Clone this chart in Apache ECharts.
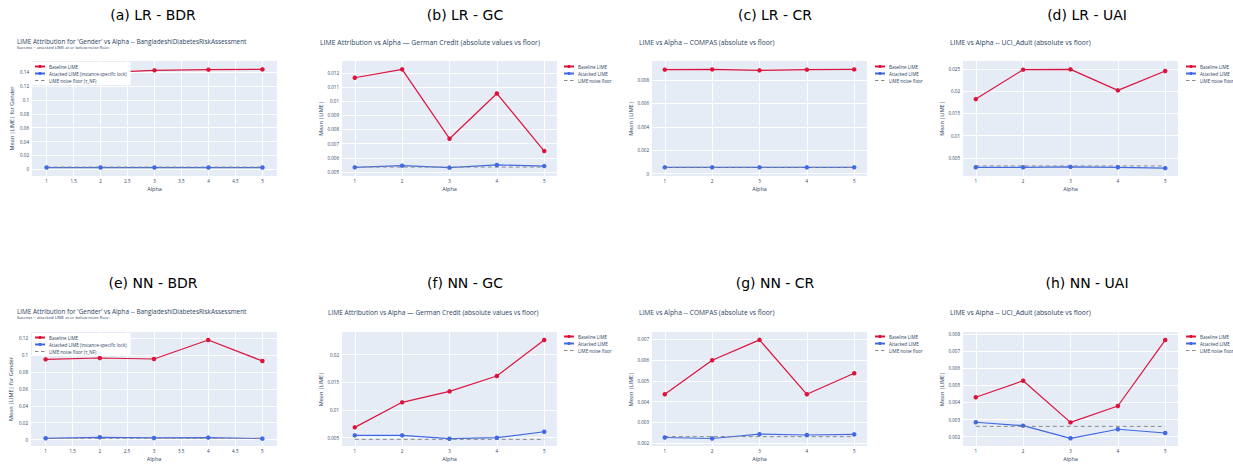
<!DOCTYPE html>
<html><head><meta charset="utf-8">
<script src="https://cdn.jsdelivr.net/npm/echarts@6/dist/echarts.min.js"></script>
<style>html,body{margin:0;padding:0;background:#fff}#c{width:1233px;height:464px}</style>
</head><body><div id="c"></div>
<script>
// ---------- DATA ----------
const alpha = [1, 2, 3, 4, 5];

const lrBdrBase = [0.1390, 0.1395, 0.1429, 0.1439, 0.1443];
const lrBdrAtt = [0.0025, 0.0025, 0.0025, 0.0025, 0.0025];
const lrBdrFloor = 0.0032;

const lrGcBase = [0.01165, 0.01224, 0.00735, 0.01054, 0.00648];
const lrGcAtt = [0.00533, 0.00545, 0.00531, 0.00550, 0.00542];
const lrGcFloor = 0.00535;

const lrCrBase = [0.00889, 0.00891, 0.00883, 0.00889, 0.00891];
const lrCrAtt = [0.00054, 0.00054, 0.00054, 0.00054, 0.00054];
const lrCrFloor = 0.00054;

const lrUaiBase = [0.01823, 0.02485, 0.02492, 0.02019, 0.02455];
const lrUaiAtt = [0.0029, 0.0029, 0.0030, 0.0029, 0.0027];
const lrUaiFloor = 0.0032;

const nnBdrBase = [0.0948, 0.0964, 0.0952, 0.1176, 0.0929];
const nnBdrAtt = [0.0016, 0.0028, 0.0020, 0.0024, 0.0012];
const nnBdrFloor = 0.0015;

const nnGcBase = [0.00687, 0.01139, 0.01337, 0.01614, 0.02265];
const nnGcAtt = [0.00542, 0.00542, 0.00482, 0.00500, 0.00608];
const nnGcFloor = 0.0047;

const nnCrBase = [0.00435, 0.00599, 0.00697, 0.00435, 0.00536];
const nnCrAtt = [0.00227, 0.00222, 0.00243, 0.00239, 0.00242];
const nnCrFloor = 0.00231;

const nnUaiBase = [0.0043, 0.00527, 0.00283, 0.00379, 0.00765];
const nnUaiAtt = [0.00284, 0.00264, 0.0019, 0.00243, 0.00221];
const nnUaiFloor = 0.0026;

// tick values
const xTicksHalf = [1, 1.5, 2, 2.5, 3, 3.5, 4, 4.5, 5];
const xTicksInt = [1, 2, 3, 4, 5];
const yTicksA = [0, 0.02, 0.04, 0.06, 0.08, 0.1, 0.12, 0.14];
const yTicksB = [0.005, 0.006, 0.007, 0.008, 0.009, 0.01, 0.011, 0.012];
const yTicksC = [0, 0.002, 0.004, 0.006, 0.008];
const yTicksD = [0.005, 0.01, 0.015, 0.02, 0.025];
const yTicksE = [0, 0.02, 0.04, 0.06, 0.08, 0.1, 0.12];
const yTicksF = [0.005, 0.01, 0.015, 0.02];
const yTicksG = [0.002, 0.003, 0.004, 0.005, 0.006, 0.007];
const yTicksH = [0.002, 0.003, 0.004, 0.005, 0.006, 0.007, 0.008];

// text
const captions = ['(a) LR - BDR', '(b) LR - GC', '(c) LR - CR', '(d) LR - UAI',
                  '(e) NN - BDR', '(f) NN - GC', '(g) NN - CR', '(h) NN - UAI'];
const titleBDR = "LIME Attribution for 'Gender' vs Alpha -- BangladeshiDiabetesRiskAssessment";
const titleGC = 'LIME Attribution vs Alpha — German Credit (absolute values vs floor)';
const titleCR = 'LIME vs Alpha -- COMPAS (absolute vs floor)';
const titleUAI = 'LIME vs Alpha -- UCI_Adult (absolute vs floor)';
const subBDR = 'Success = attacked LIME at or below noise floor.';
const namesBDR = ['Baseline LIME', 'Attacked LIME (instance-specific lock)', 'LIME noise floor (τ_NF)'];
const namesStd = ['Baseline LIME', 'Attacked LIME', 'LIME noise floor'];

// ---------- LAYOUT ----------
const panels = [
  {base: lrBdrBase, att: lrBdrAtt, floor: lrBdrFloor, yt: yTicksA, xt: xTicksHalf, title: titleBDR, sub: subBDR, names: namesBDR, yName: 'Mean |LIME| for Gender',
   gx: 32, gy: 61, gw: 245, gh: 115, ymin: -0.0097, ymax: 0.1564, lx: 32, ly: 62, inside: true, tx: 17, ty: 41, tf: 6.4, cx: 153, cy: 15},
  {base: lrGcBase, att: lrGcAtt, floor: lrGcFloor, yt: yTicksB, xt: xTicksInt, title: titleGC, names: namesStd, yName: 'Mean |LIME|',
   gx: 342, gy: 61, gw: 215, gh: 115, ymin: 0.00472, ymax: 0.01283, lx: 563, ly: 64, tx: 320, ty: 42, tf: 6.9, cx: 465, cy: 15},
  {base: lrCrBase, att: lrCrAtt, floor: lrCrFloor, yt: yTicksC, xt: xTicksInt, title: titleCR, names: namesStd, yName: 'Mean |LIME|',
   gx: 652, gy: 61, gw: 215, gh: 115, ymin: -0.0002, ymax: 0.00963, lx: 874, ly: 64, tx: 639, ty: 42, tf: 6.7, cx: 775, cy: 15},
  {base: lrUaiBase, att: lrUaiAtt, floor: lrUaiFloor, yt: yTicksD, xt: xTicksInt, title: titleUAI, names: namesStd, yName: 'Mean |LIME|',
   gx: 963, gy: 61, gw: 215, gh: 115, ymin: 0.00094, ymax: 0.0268, lx: 1185, ly: 64, tx: 950, ty: 42, tf: 6.8, cx: 1087, cy: 15},
  {base: nnBdrBase, att: nnBdrAtt, floor: nnBdrFloor, yt: yTicksE, xt: xTicksHalf, title: titleBDR, sub: subBDR, names: namesBDR, yName: 'Mean |LIME| for Gender',
   gx: 31, gy: 332, gw: 246, gh: 114, ymin: -0.0075, ymax: 0.1271, lx: 32, ly: 333, inside: true, tx: 17, ty: 311, tf: 6.4, cx: 153, cy: 283},
  {base: nnGcBase, att: nnGcAtt, floor: nnGcFloor, yt: yTicksF, xt: xTicksInt, title: titleGC, names: namesStd, yName: 'Mean |LIME|',
   gx: 342, gy: 332, gw: 215, gh: 114, ymin: 0.0035, ymax: 0.0241, lx: 563, ly: 334, tx: 328, ty: 312, tf: 6.6, cx: 465, cy: 283},
  {base: nnCrBase, att: nnCrAtt, floor: nnCrFloor, yt: yTicksG, xt: xTicksInt, title: titleCR, names: namesStd, yName: 'Mean |LIME|',
   gx: 652, gy: 332, gw: 215, gh: 114, ymin: 0.00186, ymax: 0.00735, lx: 874, ly: 334, tx: 639, ty: 312, tf: 6.7, cx: 775, cy: 283},
  {base: nnUaiBase, att: nnUaiAtt, floor: nnUaiFloor, yt: yTicksH, xt: xTicksInt, title: titleUAI, names: namesStd, yName: 'Mean |LIME|',
   gx: 963, gy: 332, gw: 215, gh: 114, ymin: 0.00145, ymax: 0.00812, lx: 1185, ly: 334, tx: 950, ty: 312, tf: 6.8, cx: 1087, cy: 283}
];

const RED = '#DC143C', BLUE = '#4169E1', GRAY = '#8a8a8a', TXT = '#2a3f5f';
const FONT = '"Open Sans", "Noto Sans", sans-serif';
const fmt = v => String(parseFloat(Number(v).toPrecision(6)));

const grid = [], xAxis = [], yAxis = [], series = [], legend = [], graphic = [];
panels.forEach((p, i) => {
  grid.push({left: p.gx, top: p.gy, width: p.gw, height: p.gh, show: true, backgroundColor: '#E5ECF6', borderWidth: 0, containLabel: false});
  xAxis.push({
    type: 'value', gridIndex: i, min: 0.73, max: 5.27,
    name: 'Alpha', nameLocation: 'middle', nameGap: 10,
    nameTextStyle: {fontSize: 5.5, color: TXT, fontFamily: FONT},
    axisLine: {show: false},
    axisTick: {show: false, customValues: p.xt},
    axisLabel: {customValues: p.xt, fontSize: 4.5, color: TXT, fontFamily: FONT, margin: 2, formatter: fmt},
    splitLine: {show: true, lineStyle: {color: '#ffffff', width: 1}}
  });
  yAxis.push({
    type: 'value', gridIndex: i, min: p.ymin, max: p.ymax,
    name: p.yName, nameLocation: 'middle', nameGap: 17, nameRotate: 90,
    nameTextStyle: {fontSize: 5.5, color: TXT, fontFamily: FONT},
    axisLine: {show: false},
    axisTick: {show: false, customValues: p.yt},
    axisLabel: {customValues: p.yt, fontSize: 4.5, color: TXT, fontFamily: FONT, margin: 3, formatter: fmt},
    splitLine: {show: true, lineStyle: {color: '#ffffff', width: 1}}
  });
  series.push({
    type: 'line', name: p.names[0], xAxisIndex: i, yAxisIndex: i,
    data: alpha.map((a, k) => [a, p.base[k]]),
    symbol: 'circle', symbolSize: 4.5, showAllSymbol: true,
    lineStyle: {color: RED, width: 1.2}, itemStyle: {color: RED}, emphasis: {disabled: true}, silent: true
  });
  series.push({
    type: 'line', name: p.names[1], xAxisIndex: i, yAxisIndex: i,
    data: alpha.map((a, k) => [a, p.att[k]]),
    symbol: 'circle', symbolSize: 4.5, showAllSymbol: true,
    lineStyle: {color: BLUE, width: 1.2}, itemStyle: {color: BLUE}, emphasis: {disabled: true}, silent: true
  });
  series.push({
    type: 'line', name: p.names[2], xAxisIndex: i, yAxisIndex: i,
    data: alpha.map(a => [a, p.floor]),
    symbol: 'none', showSymbol: false,
    lineStyle: {color: GRAY, width: 1, type: [4, 3]}, itemStyle: {color: GRAY}, emphasis: {disabled: true}, silent: true
  });
  legend.push({
    left: p.lx, top: p.ly, orient: 'vertical', selectedMode: false,
    data: [
      {name: p.names[0]},
      {name: p.names[1]},
      {name: p.names[2], itemStyle: {opacity: 0}, lineStyle: {type: [3.5, 2.5], width: 1, color: GRAY}}
    ],
    itemWidth: 10, itemHeight: 4, itemGap: 2,
    padding: p.inside ? [2, 4, 2, 2] : 0,
    backgroundColor: p.inside ? '#ffffff' : 'transparent',
    textStyle: {fontSize: 4.5, color: TXT, fontFamily: FONT, lineHeight: 5, padding: [0, 0, 0, -1]}
  });
  graphic.push({type: 'text', x: p.cx, y: p.cy, silent: true,
    style: {text: captions[i], font: '14px "DejaVu Sans", sans-serif', fill: '#000', textAlign: 'center', textVerticalAlign: 'middle'}});
  graphic.push({type: 'text', x: p.tx, y: p.ty, silent: true,
    style: {text: p.title, font: p.tf + 'px ' + FONT, fill: TXT, textAlign: 'left', textVerticalAlign: 'middle'}});
  if (p.sub) {
    graphic.push({type: 'text', x: p.tx, y: p.ty + 6.5, silent: true,
      style: {text: p.sub, font: '4.2px ' + FONT, fill: TXT, textAlign: 'left', textVerticalAlign: 'middle'}});
  }
});

const chart = echarts.init(document.getElementById('c'), null, {renderer: 'svg', width: 1233, height: 464});
chart.setOption({
  animation: false,
  backgroundColor: '#ffffff',
  grid, xAxis, yAxis, series, legend, graphic
});
</script>
</body></html>
